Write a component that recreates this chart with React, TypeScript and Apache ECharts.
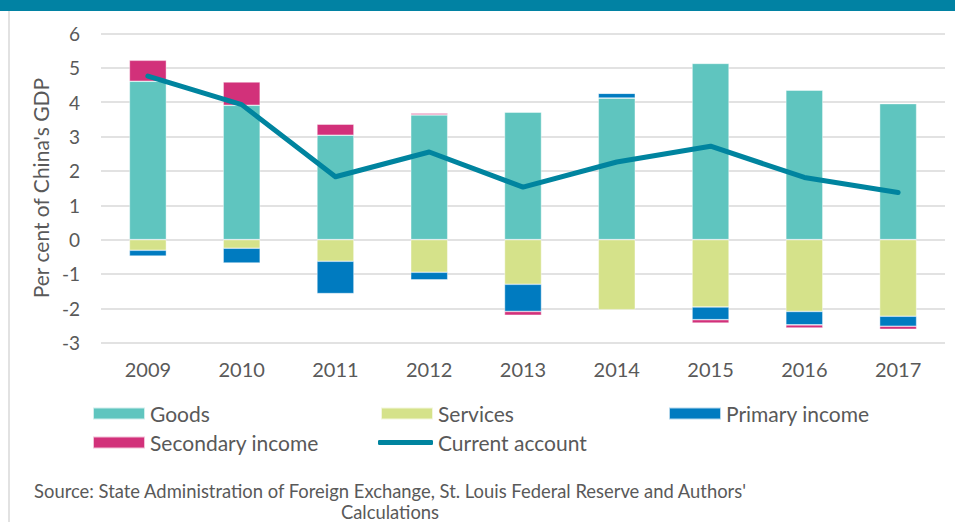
import React, { useEffect, useRef } from "react";
import * as echarts from "echarts";

const years = ["2009", "2010", "2011", "2012", "2013", "2014", "2015", "2016", "2017"];
const goods = [4.61, 3.91, 3.04, 3.63, 3.71, 4.12, 5.13, 4.35, 3.96];
const services = [-0.31, -0.25, -0.63, -0.95, -1.3, -2.04, -1.96, -2.09, -2.23];
const primaryIncome = [-0.17, -0.43, -0.94, -0.22, -0.79, 0.14, -0.37, -0.39, -0.29];
const secondaryIncome = [0.61, 0.68, 0.32, 0.05, -0.11, 0, -0.1, -0.09, -0.09];
const currentAccount = [4.76, 3.93, 1.83, 2.55, 1.53, 2.26, 2.72, 1.81, 1.37];

const yTicks = { min: -3, max: 6, interval: 1 };

const FONT = "Lato";
const TXT = "#595959";

export default function App() {
  const ref = useRef<HTMLDivElement>(null);
  useEffect(() => {
    if (!ref.current) return;
    const chart = echarts.init(ref.current, undefined, { renderer: "svg" });
    const barCommon = {
      type: "bar",
      stack: "total",
      barWidth: 37,
      itemStyle: { borderColor: "rgba(255,255,255,0.7)", borderWidth: 0.6 },
    };
    const legendText = { fontFamily: FONT, fontSize: 21, color: TXT };
    const mkLegend = (name: string, left: number, top: number, line = false) => ({
      data: [{ name, icon: line ? "roundRect" : "rect" }],
      left,
      top,
      padding: 0,
      itemWidth: line ? 55 : 52,
      itemHeight: line ? 5 : 12,
      itemGap: 0,
      textStyle: legendText,
      selectedMode: false,
    });
    chart.setOption({
      animation: false,
      backgroundColor: "#ffffff",
      textStyle: { fontFamily: FONT },
      grid: { left: 101, right: 10, top: 33.5, bottom: 179.3, containLabel: false },
      xAxis: {
        type: "category",
        data: years,
        axisLine: { show: false },
        axisTick: { show: false },
        axisLabel: { color: TXT, fontFamily: FONT, fontSize: 20, margin: 16 },
      },
      yAxis: {
        type: "value",
        min: yTicks.min,
        max: yTicks.max,
        interval: yTicks.interval,
        name: "Per cent of China's GDP",
        nameLocation: "middle",
        nameGap: 49,
        nameTextStyle: { color: TXT, fontFamily: FONT, fontSize: 21 },
        axisLine: { show: false },
        axisTick: { show: false },
        axisLabel: { color: TXT, fontFamily: FONT, fontSize: 19, margin: 21 },
        splitLine: { lineStyle: { color: "#D9D9D9", width: 1.6 } },
      },
      legend: [
        mkLegend("Goods", 92, 403),
        mkLegend("Services", 380, 403),
        mkLegend("Primary income", 668, 403),
        mkLegend("Secondary income", 92, 432),
        mkLegend("Current account", 378, 432, true),
      ],
      series: [
        { ...barCommon, name: "Goods", data: goods, itemStyle: { ...barCommon.itemStyle, color: "#5FC5BF" } },
        { ...barCommon, name: "Services", data: services, itemStyle: { ...barCommon.itemStyle, color: "#D5E28A" } },
        { ...barCommon, name: "Primary income", data: primaryIncome, itemStyle: { ...barCommon.itemStyle, color: "#007BC0" } },
        { ...barCommon, name: "Secondary income", data: secondaryIncome, itemStyle: { ...barCommon.itemStyle, color: "#D2317A" } },
        {
          type: "line",
          name: "Current account",
          data: currentAccount,
          symbol: "none",
          z: 5,
          itemStyle: { color: "#00849F" },
          lineStyle: { color: "#00849F", width: 5, cap: "round", join: "round" },
        },
      ],
      graphic: [
        { type: "rect", left: 0, top: 0, shape: { x: 0, y: 0, width: 955, height: 11 }, style: { fill: "#0182A3" } },
        { type: "line", shape: { x1: 9, y1: 11, x2: 9, y2: 522 }, style: { stroke: "#D9D9D9", lineWidth: 1.5 } },
        {
          type: "text",
          x: 390,
          y: 491,
          style: {
            text: "Source: State Administration of Foreign Exchange, St. Louis Federal Reserve and Authors'",
            fill: TXT,
            font: `18.4px ${FONT}`,
            textAlign: "center",
            textVerticalAlign: "middle",
          },
        },
        {
          type: "text",
          x: 390,
          y: 512,
          style: {
            text: "Calculations",
            fill: TXT,
            font: `18.4px ${FONT}`,
            textAlign: "center",
            textVerticalAlign: "middle",
          },
        },
      ],
    });
    return () => chart.dispose();
  }, []);
  return <div ref={ref} style={{ position: "fixed", left: 0, top: 0, width: 955, height: 522 }} />;
}
